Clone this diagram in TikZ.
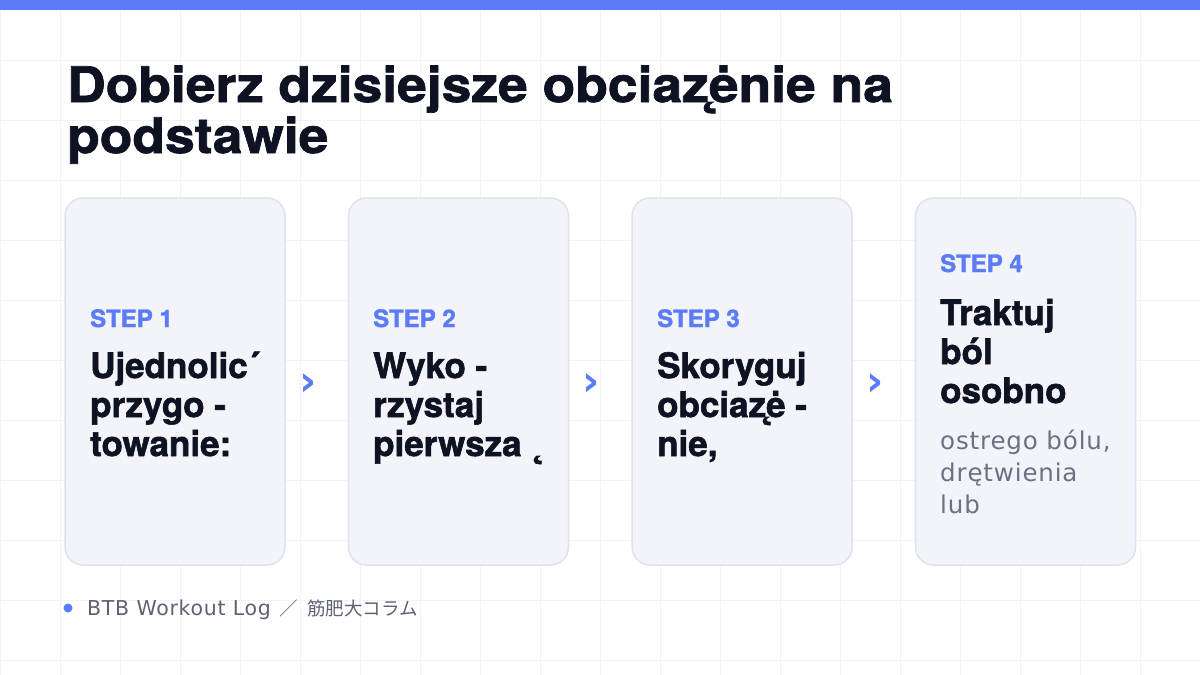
\documentclass[tikz,border=0pt]{standalone}
\usepackage{fontspec}
\setmainfont{TeX Gyre Heros}
\newfontfamily\titlefont[FakeStretch=1.09,FakeBold=1.5]{TeX Gyre Heros}
\newfontfamily\heavyfont[FakeBold=1.6]{TeX Gyre Heros}
\newfontfamily\bodyfont[LetterSpace=3.5]{DejaVu Sans}
\newfontfamily\cjkfont{Noto Sans CJK JP}
\definecolor{barblue}{HTML}{5B7CF6}
\definecolor{inkdark}{HTML}{0F1222}
\definecolor{cardfill}{HTML}{F3F4FA}
\definecolor{cardline}{HTML}{DEE2EE}
\definecolor{gridline}{HTML}{F1F3F8}
\definecolor{mutegray}{HTML}{6B7082}
\definecolor{footgray}{HTML}{5E6374}
\tikzset{
  card/.style={draw=cardline, line width=1.5pt, fill=cardfill, rounded corners=18pt,
    minimum width=220pt, minimum height=367pt, inner sep=0pt},
  steplabel/.style={anchor=base west, inner sep=0pt, text=barblue,
    font=\heavyfont\fontsize{24}{28}\selectfont\bfseries},
  headline/.style={anchor=base west, inner sep=0pt, align=left, text=inkdark,
    font=\heavyfont\fontsize{35}{39}\selectfont\bfseries},
  note/.style={anchor=base west, inner sep=0pt, align=left, text=mutegray,
    font=\bodyfont\fontsize{24.5}{32}\selectfont},
  chevron/.style={inner sep=0pt, text=barblue, font=\bodyfont\fontsize{42}{42}\selectfont\bfseries}
}
\begin{document}
\begin{tikzpicture}[x=1pt,y=-1pt]
  \useasboundingbox (0,0) rectangle (1200,675);
  \fill[white] (0,0) rectangle (1200,675);
  \draw[gridline, line width=1pt, step=60pt] (0,0) grid (1200,675);
  \fill[barblue] (0,0) rectangle (1200,10);

  % title (base = last line)
  \node[anchor=base west, inner sep=0pt, align=left, text=inkdark,
    font=\titlefont\fontsize{49}{51}\selectfont\bfseries] (title) at (67,153)
    {Dobierz dzisiejsze obciaz\makebox[0pt]{˛}ėnie na\\podstawie};

  % cards
  \node[card] (c1) at (175,381.5) {};
  \node[card] (c2) at (458.5,381.5) {};
  \node[card] (c3) at (742,381.5) {};
  \node[card] (c4) at (1025.5,381.5) {};

  % steps
  \node[steplabel] (s1) at (90,327) {STEP 1};
  \node[headline] (h1) at ([yshift=-129pt]s1.base west) {Ujednolic´\\przygo -\\towanie:};

  \node[steplabel] (s2) at (373,327) {STEP 2};
  \node[headline] (h2) at ([yshift=-129pt]s2.base west) {Wyko -\\rzystaj\\pierwsza ˛};

  \node[steplabel] (s3) at (657,327) {STEP 3};
  \node[headline] (h3) at ([yshift=-129pt]s3.base west) {Skoryguj\\obciaz\makebox[0pt]{˛}ė -\\nie,};

  \node[steplabel] (s4) at (940,272) {STEP 4};
  \node[headline] (h4) at ([yshift=-131pt]s4.base west) {Traktuj\\ból\\osobno};
  \node[note] (n4) at ([yshift=-110pt]h4.base west) {ostrego bólu,\\drętwienia\\lub};

  % chevrons between cards
  \node[chevron] (a12) at ([xshift=22pt,yshift=-3.5pt]c1.east) {›};
  \node[chevron] (a23) at ([xshift=22pt,yshift=-3.5pt]c2.east) {›};
  \node[chevron] (a34) at ([xshift=22pt,yshift=-3.5pt]c3.east) {›};

  % footer
  \node[circle, fill=barblue, minimum size=9pt, inner sep=0pt] (dot) at (68,608) {};
  \node[anchor=base west, inner sep=0pt, text=footgray, font=\bodyfont\fontsize{20.5}{24}\selectfont]
    (foot) at (87,615) {BTB Workout Log\hspace{9pt}{\cjkfont\fontsize{18.5}{24}\selectfont ／\hspace{9pt}筋肥大コラム}};
\end{tikzpicture}
\end{document}
